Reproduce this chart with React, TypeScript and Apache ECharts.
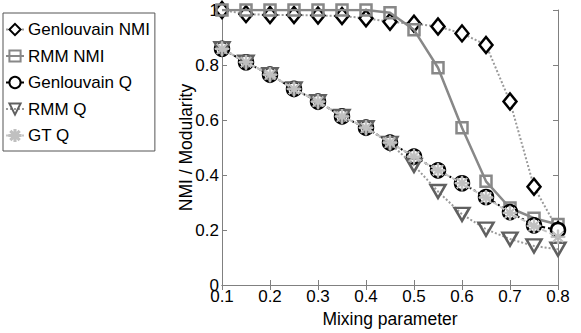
import React, { useEffect, useRef } from "react";
import * as echarts from "echarts";

const mixing = [0.1, 0.15, 0.2, 0.25, 0.3, 0.35, 0.4, 0.45, 0.5, 0.55, 0.6, 0.65, 0.7, 0.75, 0.8];
const genlouvainNMI = [1.0, 0.985, 0.982, 0.982, 0.98, 0.978, 0.97, 0.957, 0.95, 0.94, 0.915, 0.873, 0.667, 0.357, 0.2];
const rmmNMI = [1.0, 1.0, 1.0, 1.0, 1.0, 1.0, 1.0, 0.99, 0.928, 0.79, 0.572, 0.377, 0.28, 0.243, 0.22];
const genlouvainQ = [0.859, 0.81, 0.765, 0.713, 0.667, 0.613, 0.572, 0.518, 0.467, 0.417, 0.37, 0.32, 0.265, 0.217, 0.2];
const rmmQ = [0.859, 0.81, 0.765, 0.713, 0.667, 0.613, 0.572, 0.515, 0.435, 0.34, 0.257, 0.203, 0.167, 0.142, 0.13];
const gtQ = [0.859, 0.81, 0.765, 0.713, 0.667, 0.613, 0.572, 0.518, 0.467, 0.417, 0.37, 0.318, 0.262, 0.215, 0.175];
const yTicks = [0, 0.2, 0.4, 0.6, 0.8, 1];

const FONT = "'Liberation Sans', Arial, sans-serif";
const STAR = "path://M45,0 L55,0 L55,38 L82,11 L89,18 L62,45 L100,45 L100,55 L62,55 L89,82 L82,89 L55,62 L55,100 L45,100 L45,62 L18,89 L11,82 L38,55 L0,55 L0,45 L38,45 L11,18 L18,11 L45,38 Z";

const pairs = (ys: number[]) => mixing.map((x, i) => [x, ys[i]]);

export default function App() {
  const ref = useRef<HTMLDivElement>(null);
  useEffect(() => {
    if (!ref.current) return;
    const chart = echarts.init(ref.current, null, { renderer: "svg" });
    const axisLine = { show: true, lineStyle: { color: "#808080", width: 1 } };
    const noLabel = { show: false };
    const tick = { show: true, inside: true, length: 5, lineStyle: { color: "#808080" } };
    chart.setOption({
      animation: false,
      backgroundColor: "#fff",
      grid: { left: 222, top: 10, right: 23, bottom: 47, containLabel: false },
      legend: {
        orient: "vertical",
        left: 3,
        top: 13,
        padding: [8, 5, 7, 2],
        itemWidth: 18,
        itemHeight: 14,
        itemGap: 9.5,
        borderColor: "#555",
        borderWidth: 1,
        backgroundColor: "#fff",
        textStyle: { fontFamily: FONT, fontSize: 17, color: "#000", padding: [0, 0, 0, -1] },
        data: ["Genlouvain NMI", "RMM NMI", "Genlouvain Q", "RMM Q", "GT Q"],
      },
      xAxis: [
        {
          type: "value",
          min: 0.1,
          max: 0.8,
          interval: 0.1,
          name: "Mixing parameter",
          nameLocation: "middle",
          nameGap: 25,
          nameMoveOverlap: false,
          nameTextStyle: { fontFamily: FONT, fontSize: 17.5, color: "#000" },
          axisLine,
          axisTick: tick,
          axisLabel: {
            fontFamily: FONT,
            fontSize: 17,
            color: "#000",
            margin: 3,
            formatter: (v: number) => v.toFixed(1),
          },
          splitLine: { show: false },
        },
        {
          type: "value",
          position: "top",
          min: 0.1,
          max: 0.8,
          interval: 0.1,
          axisLine,
          axisTick: tick,
          axisLabel: noLabel,
          splitLine: { show: false },
        },
      ],
      yAxis: [
        {
          type: "value",
          min: 0,
          max: 1,
          interval: 0.2,
          name: "NMI / Modularity",
          nameLocation: "middle",
          nameGap: 27,
          nameMoveOverlap: false,
          nameRotate: 90,
          nameTextStyle: { fontFamily: FONT, fontSize: 17.5, color: "#000" },
          axisLine,
          axisTick: tick,
          axisLabel: {
            fontFamily: FONT,
            fontSize: 17,
            color: "#000",
            margin: 3,
            formatter: (v: number) => (yTicks.includes(Math.round(v * 10) / 10) ? String(Math.round(v * 10) / 10) : ""),
          },
          splitLine: { show: false },
        },
        {
          type: "value",
          position: "right",
          min: 0,
          max: 1,
          interval: 0.2,
          axisLine,
          axisTick: tick,
          axisLabel: noLabel,
          splitLine: { show: false },
        },
      ],
      series: [
        {
          name: "Genlouvain NMI",
          type: "line",
          data: pairs(genlouvainNMI),
          symbol: "diamond",
          symbolSize: [13, 16],
          showAllSymbol: true,
          lineStyle: { color: "#9a9a9a", width: 2, type: [2, 2] },
          itemStyle: { color: "#fff", borderColor: "#000", borderWidth: 2.5 },
          z: 2,
        },
        {
          name: "RMM NMI",
          type: "line",
          data: pairs(rmmNMI),
          symbol: "rect",
          symbolSize: 11,
          lineStyle: { color: "#888", width: 2.5 },
          itemStyle: { color: "rgba(255,255,255,0)", borderColor: "#888", borderWidth: 2.5 },
          z: 3,
        },
        {
          name: "Genlouvain Q",
          type: "line",
          data: pairs(genlouvainQ),
          symbol: "circle",
          symbolSize: 14,
          lineStyle: { color: "#000", width: 2, type: [6, 3, 2, 3] },
          itemStyle: { color: "#fff", borderColor: "#000", borderWidth: 2.5 },
          z: 4,
        },
        {
          name: "RMM Q",
          type: "line",
          data: pairs(rmmQ),
          symbol: "triangle",
          symbolRotate: 180,
          symbolSize: [15, 13],
          lineStyle: { color: "#9a9a9a", width: 2, type: [2, 2] },
          itemStyle: { color: "rgba(255,255,255,0)", borderColor: "#606060", borderWidth: 2.5 },
          z: 5,
        },
        {
          name: "GT Q",
          type: "line",
          data: pairs(gtQ),
          symbol: STAR,
          symbolSize: 14,
          lineStyle: { color: "#c4c4c4", width: 2, type: [5, 3] },
          itemStyle: { color: "#c0c0c0", borderColor: "#c0c0c0", borderWidth: 1 },
          z: 6,
        },
      ],
    });
    return () => chart.dispose();
  }, []);
  return <div ref={ref} style={{ width: 581, height: 333, position: "absolute", left: 0, top: 0 }} />;
}
